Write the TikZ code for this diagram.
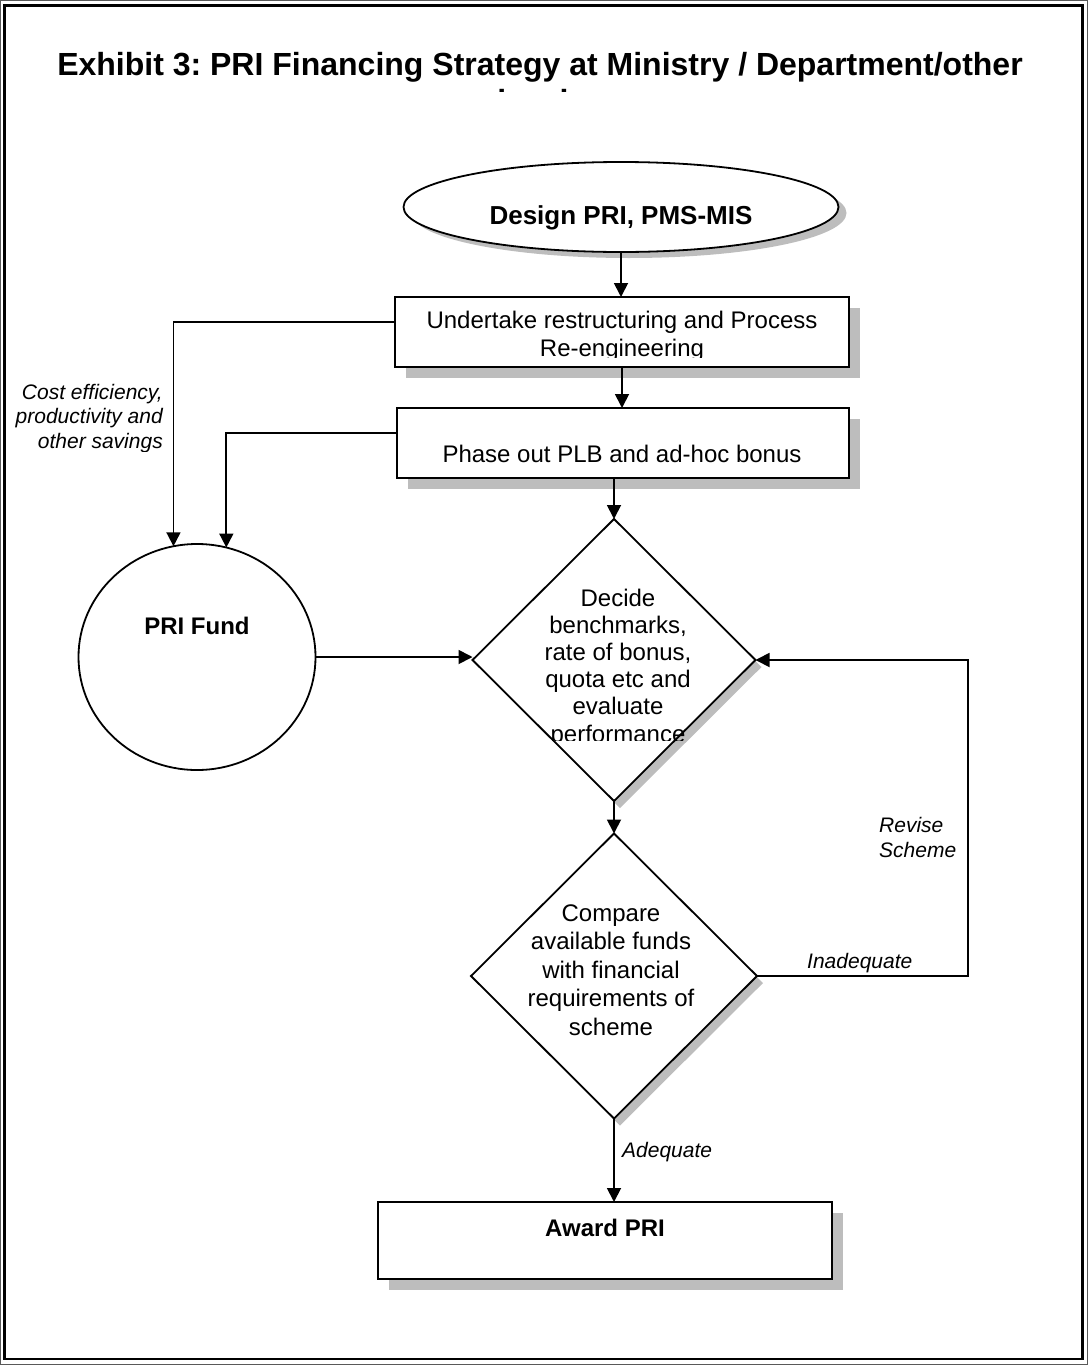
\documentclass[tikz,border=0pt]{standalone}
\usepackage{fontspec}
\setmainfont{Liberation Sans}
\frenchspacing
\usetikzlibrary{shapes.geometric,arrows.meta,shadows}
\begin{document}
\begin{tikzpicture}[x=1pt,y=-1pt,
  shp/.style={draw, line width=1.8pt, fill=white, inner sep=0pt, outer sep=0pt},
  boxshadow/.style={general shadow={fill=black!26, shadow xshift=11pt, shadow yshift=-11pt}},
  arr/.style={-{Triangle[length=14pt,width=14pt]}, line width=1.8pt},
  tx/.style={font=\fontsize{24}{27.2}\selectfont, inner sep=0pt, align=center},
  txb/.style={font=\fontsize{24}{27.2}\selectfont\bfseries, inner sep=0pt},
  lbl/.style={font=\fontsize{21}{24.5}\selectfont\itshape, inner sep=0pt}
]
\useasboundingbox (0,0) rectangle (1088,1365);
% frame
\draw[line width=1.2pt, black!65] (0.6,0.6) rectangle (1087.4,1364.4);
\draw[line width=2.6pt] (4.2,5.2) rectangle (1082.5,1359);

% title
\node[anchor=base, inner sep=0pt, font=\fontsize{32}{37}\selectfont\bfseries] (title) at (540,75)
  {Exhibit 3: PRI Financing Strategy at Ministry / Department/other};
\begin{scope}
  \clip (0,80) rectangle (1088,91);
  \node[anchor=base, inner sep=0pt, font=\fontsize{32}{37}\selectfont\bfseries] (title2) at (533,112) {level};
\end{scope}

% shapes
\node[shp, ellipse, minimum width=435pt, minimum height=90pt,
      general shadow={fill=black!26, shadow xshift=8pt, shadow yshift=-6pt}] (design) at (621,207) {};
\node[txb, font=\fontsize{26}{30}\selectfont\bfseries, anchor=base] (designtxt) at (621,224) {Design PRI, PMS-MIS};

\node[shp, rectangle, minimum width=454pt, minimum height=70pt, boxshadow] (box1) at (622,332) {};
\begin{scope}
  \clip (395,297) rectangle (849,357.5);
  \node[tx, anchor=base] (box1txt) at (622,356) {Undertake restructuring and Process\\Re-engineering};
\end{scope}

\node[shp, rectangle, minimum width=452pt, minimum height=70pt, boxshadow] (box2) at (623,443) {};
\node[tx, anchor=base] (box2txt) at (622,462) {Phase out PLB and ad-hoc bonus};

\node[shp, ellipse, minimum width=237pt, minimum height=226pt] (fund) at (197,657) {};
\node[txb, anchor=base] (fundtxt) at (197,634) {PRI Fund};

\node[shp, diamond, minimum width=283pt, minimum height=282pt,
      general shadow={fill=black!26, shadow xshift=6pt, shadow yshift=-7pt}] (d1) at (614,660) {};
\begin{scope}
  \clip (470,515) rectangle (760,740.5);
  \node[tx, anchor=base] (d1txt) at (618,742) {Decide\\benchmarks,\\rate of bonus,\\quota etc and\\evaluate\\performance};
\end{scope}

\node[shp, diamond, minimum width=286pt, minimum height=285pt,
      general shadow={fill=black!26, shadow xshift=6pt, shadow yshift=-7pt}] (d2) at (614,976) {};
\node[tx, font=\fontsize{24}{28.5}\selectfont, anchor=base] (d2txt) at (611,1035)
  {Compare\\available funds\\with financial\\requirements of\\scheme};

\node[shp, rectangle, minimum width=454pt, minimum height=77pt, boxshadow] (award) at (605,1240.5) {};
\node[txb, anchor=base] (awardtxt) at (605,1236) {Award PRI};

% connectors
\draw[arr] (design.south) -- (design.south |- box1.north);
\draw[arr] (box1.south) -- (box1.south |- box2.north);
\draw[arr] (box2.south -| d1.north) -- (d1.north);
\draw[arr] (d1.south) -- (d2.north);
\draw[arr] (d2.south) -- (d2.south |- award.north);
\draw[arr] ([yshift=10pt]box1.west) -| (fund.102);
\draw[arr] ([yshift=10pt]box2.west) -| (fund.75);
\draw[arr] (fund.east) -- (fund.east -| d1.west);
\coordinate (loopc) at (968,0);
\draw[arr] (d2.east) -- (d2.east -| loopc) -- (loopc |- d1.east) -- (d1.east);

% labels
\begin{scope}
  \clip (0,370) rectangle (170,451);
  \node[lbl, align=right, anchor=base east] (costlbl) at (163,448) {Cost efficiency,\\productivity and\\other savings};
\end{scope}
\node[lbl, align=left, anchor=base west] (revlbl) at (879,857) {Revise\\Scheme};
\node[lbl, anchor=base west] (inadlbl) at (807,968) {Inadequate};
\node[lbl, anchor=base west] (adeqlbl) at (622,1157) {Adequate};
\end{tikzpicture}
\end{document}
